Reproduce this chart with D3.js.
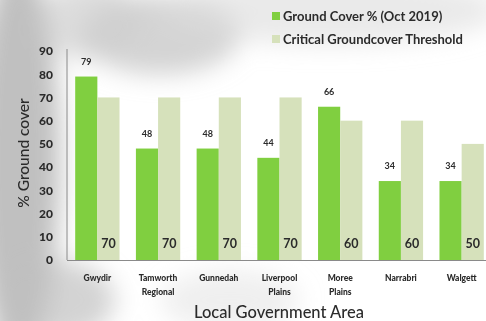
<!DOCTYPE html>
<html>
<head>
<meta charset="utf-8">
<script src="https://cdn.jsdelivr.net/npm/d3@7"></script>
<style>
  html, body { margin: 0; padding: 0; background: #fff; }
  svg { display: block; }
  text { font-family: Lato, "Open Sans", sans-serif; fill: #2b2b2b; }
</style>
</head>
<body>
<div id="chart"></div>
<script>
const categories = [["Gwydir"], ["Tamworth", "Regional"], ["Gunnedah"], ["Liverpool", "Plains"], ["Moree", "Plains"], ["Narrabri"], ["Walgett"]];
const groundCover = [79, 48, 48, 44, 66, 34, 34];
const threshold = [70, 70, 70, 70, 60, 60, 50];
const yTicks = [0, 10, 20, 30, 40, 50, 60, 70, 80, 90];
const seriesNames = ["Ground Cover % (Oct 2019)", "Critical Groundcover Threshold"];
const colors = ["#80cf40", "#d6e1bb"];

const W = 486, H = 321;
const margin = { left: 67, right: -6, top: 51, bottom: 61 };

const svg = d3.select("#chart").append("svg").attr("width", W).attr("height", H);

// soft grey backdrop
const defs = svg.append("defs");
defs.append("filter").attr("id", "soft").attr("x", "-50%").attr("y", "-50%").attr("width", "200%").attr("height", "200%")
  .append("feGaussianBlur").attr("stdDeviation", 12);
const bg = svg.append("g").attr("filter", "url(#soft)");
[
  { cx: 18, cy: 160, rx: 42, ry: 200, c: "#b5b5b5", o: 0.85 },
  { cx: 55, cy: 300, rx: 60, ry: 40, c: "#c0c0c0", o: 0.7 },
  { cx: 160, cy: 35, rx: 80, ry: 40, c: "#c6c6c6", o: 0.75 },
  { cx: 90, cy: 20, rx: 50, ry: 40, c: "#cfcfcf", o: 0.7 },
  { cx: 330, cy: 10, rx: 170, ry: 35, c: "#dcdcdc", o: 0.6 },
  { cx: 230, cy: 300, rx: 70, ry: 30, c: "#e0e0e0", o: 0.5 }
].forEach(e => bg.append("ellipse").attr("cx", e.cx).attr("cy", e.cy).attr("rx", e.rx).attr("ry", e.ry)
  .attr("fill", e.c).attr("opacity", e.o));

const x0 = d3.scaleBand().domain(d3.range(categories.length))
  .range([margin.left, W - margin.right]).paddingInner(0.27).paddingOuter(0.135);
const x1 = d3.scaleBand().domain([0, 1]).range([0, x0.bandwidth()]);
const y = d3.scaleLinear().domain([0, 90]).range([H - margin.bottom, margin.top]);

// bars
const groups = svg.append("g").selectAll("g").data(categories).join("g")
  .attr("transform", (d, i) => `translate(${x0(i)},0)`);
groups.append("rect").attr("x", x1(0)).attr("width", x1.bandwidth())
  .attr("y", (d, i) => y(groundCover[i])).attr("height", (d, i) => y(0) - y(groundCover[i]))
  .attr("fill", colors[0]);
groups.append("rect").attr("x", x1(1)).attr("width", x1.bandwidth())
  .attr("y", (d, i) => y(threshold[i])).attr("height", (d, i) => y(0) - y(threshold[i]))
  .attr("fill", colors[1]);

// value labels
groups.append("text").attr("x", x1(0) + x1.bandwidth() / 2).attr("y", (d, i) => y(groundCover[i]) - 12)
  .attr("text-anchor", "middle").attr("font-size", 9).attr("font-weight", 700)
  .text((d, i) => groundCover[i]);
groups.append("text").attr("x", x1(1) + x1.bandwidth() / 2).attr("y", y(0) - 12)
  .attr("text-anchor", "middle").attr("font-size", 12.5).attr("font-weight", 700)
  .text((d, i) => threshold[i]);

// axes
svg.append("line").attr("x1", margin.left).attr("x2", margin.left).attr("y1", y(90) - 2).attr("y2", y(0))
  .attr("stroke", "#8a8a8a").attr("stroke-width", 1);
svg.append("line").attr("x1", margin.left).attr("x2", W).attr("y1", y(0) + 0.5).attr("y2", y(0) + 0.5)
  .attr("stroke", "#8a8a8a").attr("stroke-width", 1.2);

const yAxis = svg.append("g").attr("transform", `translate(${margin.left},0)`)
  .call(d3.axisLeft(y).tickValues(yTicks).tickSize(0).tickPadding(14));
yAxis.select(".domain").remove();
yAxis.selectAll("text").attr("font-size", 12).attr("font-weight", 900)
  .style("font-family", "Lato, sans-serif").attr("fill", "#2b2b2b");

// category labels
groups.append("text").attr("x", x0.bandwidth() / 2).attr("y", y(0) + 21)
  .attr("text-anchor", "middle").attr("font-size", 8.5).attr("font-weight", 900)
  .selectAll("tspan").data(d => d).join("tspan")
  .attr("x", x0.bandwidth() / 2).attr("dy", (d, i) => i === 0 ? 0 : 14).text(d => d);

// axis titles
svg.append("text").attr("transform", `translate(29,153) rotate(-90)`).attr("text-anchor", "middle")
  .attr("font-size", 15.5).attr("font-weight", 500).text("% Ground cover");
svg.append("text").attr("x", 279).attr("y", 318).attr("text-anchor", "middle")
  .attr("font-size", 16.5).attr("font-weight", 500).text("Local Government Area");

// legend
const legend = svg.append("g").attr("transform", "translate(272,12)");
seriesNames.forEach((name, i) => {
  const g = legend.append("g").attr("transform", `translate(0,${i * 23})`);
  g.append("rect").attr("width", 8).attr("height", 8).attr("fill", colors[i]);
  g.append("text").attr("x", 11).attr("y", 8.5).attr("font-size", 13).attr("font-weight", 700).text(name);
});
</script>
</body>
</html>
